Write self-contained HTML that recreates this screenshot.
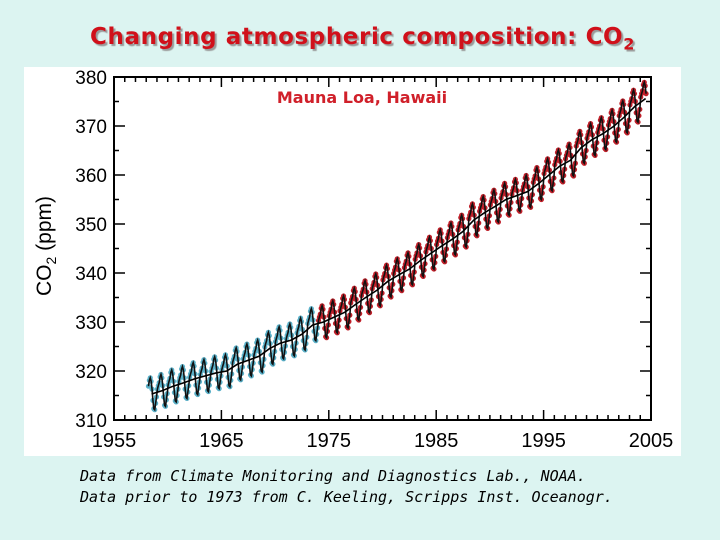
<!DOCTYPE html>
<html><head><meta charset="utf-8"><style>
body{margin:0;width:720px;height:540px;background:#dcf4f1;position:relative;overflow:hidden;font-family:"Liberation Sans",sans-serif}
#title{position:absolute;left:0;width:725px;top:24px;text-align:center;color:#d0101a;font-weight:bold;font-size:23px;letter-spacing:0.6px;font-family:"DejaVu Sans",sans-serif;text-shadow:2px 2px 1px #9a9a9a}
#panel{position:absolute;left:24px;top:67px;width:657px;height:389px;background:#fff}
.foot{position:absolute;left:80px;font-style:italic;font-size:15px;letter-spacing:0px;color:#000;font-family:"DejaVu Sans Mono",monospace}
</style></head><body>
<div id="title">Changing atmospheric composition: CO<sub style="font-size:16px">2</sub></div>
<div id="panel"></div>
<svg id="chart" width="720" height="540" style="position:absolute;left:0;top:0"></svg>
<div class="foot" style="top:467px">Data from Climate Monitoring and Diagnostics Lab., NOAA.</div>
<div class="foot" style="top:488px">Data prior to 1973 from C. Keeling, Scripps Inst. Oceanogr.</div>
<script>
const years=[1958,1959,1960,1961,1962,1963,1964,1965,1966,1967,1968,1969,1970,1971,1972,1973,1974,1975,1976,1977,1978,1979,1980,1981,1982,1983,1984,1985,1986,1987,1988,1989,1990,1991,1992,1993,1994,1995,1996,1997,1998,1999,2000,2001,2002,2003,2004];
const annualMean=[315.3,316.0,316.9,317.6,318.4,319.0,319.6,320.0,321.4,322.2,323.0,324.6,325.7,326.3,327.5,329.4,330.0,331.0,332.0,333.6,335.1,336.5,338.3,339.6,340.8,342.5,344.0,345.5,346.9,348.5,350.8,352.3,353.6,355.0,355.8,356.6,358.2,360.0,361.8,363.0,365.6,367.2,368.4,369.9,371.8,374.0,375.6];
const seasonal=[0.3,1.0,1.6,2.8,3.3,2.6,1.0,-1.3,-3.0,-3.2,-1.9,-0.6];
const xTicks=[1955,1965,1975,1985,1995,2005];
const yTicks=[310,320,330,340,350,360,370,380];
const ns="http://www.w3.org/2000/svg",svg=document.getElementById('chart');
const L=114,R=651,T=77,B=420;
const x=v=>L+(v-1955)/50*(R-L), y=v=>B-(v-310)/70*(B-T);
function mk(t,a,p){const e=document.createElementNS(ns,t);for(const k in a)e.setAttribute(k,a[k]);(p||svg).appendChild(e);return e;}
const pts=[];
years.forEach((yr,i)=>{const start=yr===1958?2:0;const end=yr===2004?7:12;for(let m=start;m<end;m++)pts.push([yr+(m+0.5)/12,annualMean[i]+seasonal[m]]);});
const g=mk('g',{});


pts.forEach(p=>{const c=mk('circle',{cx:x(p[0]),cy:y(p[1]),r:2.6,fill:p[0]<1974?'#5ab0c8':'#c0202a'},g);

});
const line=mk('polyline',{points:pts.map(p=>x(p[0])+','+y(p[1])).join(' '),fill:'none',stroke:'#111','stroke-width':1.6});


const trend=mk('polyline',{points:years.map((yr,i)=>x(yr+0.5)+','+y(annualMean[i])).join(' '),fill:'none',stroke:'#000','stroke-width':1.6});


const ax=mk('g',{stroke:'#000','stroke-width':1.5});


mk('rect',{x:L,y:T,width:R-L,height:B-T,fill:'none','stroke-width':2},ax);
for(let yr=1955;yr<=2005;yr++){const big=yr%10===5,len=big?10:5;
mk('line',{x1:x(yr),x2:x(yr),y1:B,y2:B-len},ax);mk('line',{x1:x(yr),x2:x(yr),y1:T,y2:T+len},ax);}
for(let v=310;v<=380;v+=5){const big=v%10===0,len=big?11:5;
mk('line',{x1:L,x2:L+len,y1:y(v),y2:y(v)},ax);mk('line',{x1:R,x2:R-len,y1:y(v),y2:y(v)},ax);}
xTicks.forEach(v=>{const t=mk('text',{x:x(v),y:447,'text-anchor':'middle','font-size':20,fill:'#000'});t.textContent=v;

});
yTicks.forEach(v=>{const t=mk('text',{x:L-7,y:y(v)+7,'text-anchor':'end','font-size':19,fill:'#000'});t.textContent=v;

});
const yt=mk('text',{transform:'translate(51,246) rotate(-90)','text-anchor':'middle','font-size':21,fill:'#000'});
yt.innerHTML='CO<tspan font-size="14" dy="5">2</tspan><tspan dy="-5"> (ppm)</tspan>';


const st=mk('text',{x:362,y:103,'text-anchor':'middle','font-size':16,'font-weight':'bold','font-family':'DejaVu Sans, sans-serif',fill:'#d0202a'});st.textContent='Mauna Loa, Hawaii';


</script>
</body></html>
